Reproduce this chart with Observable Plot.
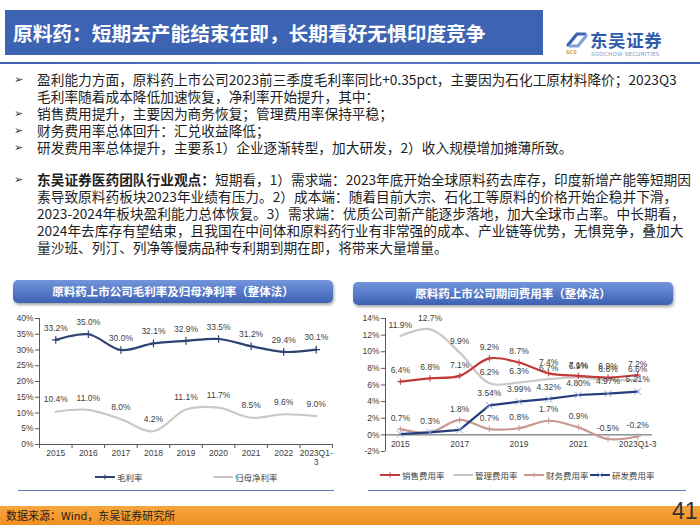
<!DOCTYPE html>
<html><head><meta charset="utf-8">
<script src="https://cdn.jsdelivr.net/npm/d3@7"></script>
<script src="https://cdn.jsdelivr.net/npm/@observablehq/plot@0.6"></script>
<style>
body{margin:0;width:700px;height:525px;position:relative;overflow:hidden;background:#fff;font-family:"Noto Sans CJK SC","Noto Sans",sans-serif;}
.abs{position:absolute;}
.txt{position:absolute;left:0;width:700px;font-size:13.7px;line-height:17px;color:#1e1e1e;white-space:nowrap;}
.ln{position:relative;padding-left:37px;height:17px;}
.bl{position:absolute;left:14px;top:0;font-size:11px;font-family:"DejaVu Sans",sans-serif;color:#333;}
.ctitle{position:absolute;height:23px;line-height:23px;border-radius:5px;background:linear-gradient(to bottom,#7395dc,#3d61b3);box-shadow:1px 2px 3px rgba(0,0,0,0.35);color:#fff;font-weight:bold;font-size:11.5px;text-align:center;}
.leg{position:absolute;font-family:"Noto Sans CJK SC",sans-serif;font-size:8.5px;color:#404040;display:flex;align-items:center;white-space:nowrap;}
.leg svg{margin-right:2px;}
</style></head><body>
<div class="abs" style="left:5px;top:10px;width:538px;height:45px;background:#3d63b3;"></div>
<div class="abs" style="left:13px;top:10px;height:45px;line-height:45px;color:#fff;font-weight:bold;font-size:19.7px;white-space:nowrap;">原料药：短期去产能结束在即，长期看好无惧印度竞争</div>
<svg class="abs" style="left:565px;top:32px" width="24" height="16" viewBox="0 0 24 16">
  <path d="M3 13 L12 2 L20 2" fill="none" stroke="#3a62b0" stroke-width="3.2" stroke-linecap="round"/>
  <path d="M5 14 L13 14 L21 4" fill="none" stroke="#7fa0d8" stroke-width="3.2" stroke-linecap="round"/>
</svg>
<div class="abs" style="left:566px;top:50px;font-size:5px;line-height:5px;color:#c8a23a;font-weight:bold;font-family:'DejaVu Sans';">SCS</div>
<div class="abs" style="left:590px;top:31px;font-size:17.5px;line-height:17px;font-weight:bold;color:#2f5cab;letter-spacing:0.6px;">东吴证券</div>
<div class="abs" style="left:591px;top:51px;font-size:5.6px;line-height:6px;color:#7b97cc;font-family:'DejaVu Sans';letter-spacing:0.2px;">SOOCHOW SECURITIES</div>
<div class="abs" style="left:0;top:62px;width:700px;height:2px;background:linear-gradient(to right,#3f62ad,#5a7bc0,#3f62ad);"></div>

<div class="txt" style="top:71px;">
  <div class="ln"><span class="bl">➢</span>盈利能力方面，原料药上市公司2023前三季度毛利率同比+0.35pct，主要因为石化工原材料降价；2023Q3</div>
  <div class="ln">毛利率随着成本降低加速恢复，净利率开始提升，其中：</div>
  <div class="ln"><span class="bl">➢</span>销售费用提升，主要因为商务恢复；管理费用率保持平稳；</div>
  <div class="ln"><span class="bl">➢</span>财务费用率总体回升：汇兑收益降低；</div>
  <div class="ln"><span class="bl">➢</span>研发费用率总体提升，主要系1）企业逐渐转型，加大研发，2）收入规模增加摊薄所致。</div>
</div>
<div class="txt" style="top:171px;">
  <div class="ln"><span class="bl">➢</span><b>东吴证券医药团队行业观点：</b>短期看，1）需求端：2023年底开始全球原料药去库存，印度新增产能等短期因</div>
  <div class="ln">素导致原料药板块2023年业绩有压力。2）成本端：随着目前大宗、石化工等原料的价格开始企稳并下滑，</div>
  <div class="ln">2023-2024年板块盈利能力总体恢复。3）需求端：优质公司新产能逐步落地，加大全球市占率。中长期看，</div>
  <div class="ln">2024年去库存有望结束，且我国在中间体和原料药行业有非常强的成本、产业链等优势，无惧竞争，叠加大</div>
  <div class="ln">量沙班、列汀、列净等慢病品种专利期到期在即，将带来大量增量。</div>
</div>

<div class="ctitle" style="left:13px;top:280px;width:320px;">原料药上市公司毛利率及归母净利率（整体法）</div>
<div class="ctitle" style="left:353px;top:282px;width:320px;">原料药上市公司期间费用率（整体法）</div>

<div id="left" class="abs" style="left:0;top:305px;"></div>
<div id="right" class="abs" style="left:345px;top:305px;"></div>

<div class="abs" style="left:18px;top:490px;width:316px;height:1px;background:#5a76ae;"></div>
<div class="abs" style="left:368px;top:490px;width:318px;height:1px;background:#5a76ae;"></div>

<div class="abs" style="left:0;top:506px;width:700px;height:19px;background:linear-gradient(to bottom,#f7a63f,#ef8f22);"></div>
<div class="abs" style="left:6px;top:506px;height:19px;line-height:19px;font-size:11px;color:#1e1e1e;">数据来源：Wind，东吴证券研究所</div>
<div class="abs" style="left:672px;top:498px;font-size:23px;color:#333;font-family:'Liberation Sans',Arial,sans-serif;">41</div>

<script>
// ---- data ----
const years = ["2015","2016","2017","2018","2019","2020","2021","2022","2023Q1-3"];
const leftYearLabels = ["2015","2016","2017","2018","2019","2020","2021","2022","2023Q1-\n3"];
const rightYearLabels = ["2015","","2017","","2019","","2021","","2023Q1-3"];
const grossMargin = [33.2, 35.0, 30.0, 32.1, 32.9, 33.5, 31.2, 29.4, 30.1];
const netMargin   = [10.4, 11.0, 8.0, 4.2, 11.1, 11.7, 8.5, 9.6, 9.0];
const sellingRate = [6.4, 6.8, 7.1, 9.2, 8.7, 7.4, 7.1, 6.9, 7.2];
const adminRate   = [11.9, 12.7, 9.9, 6.2, 6.3, 6.7, 6.9, 6.6, 6.6];
const financeRate = [0.7, 0.3, 1.8, 0.7, 0.8, 1.7, 0.9, -0.5, -0.2];
const rdRate      = [0.1, 0.3, 0.6, 3.54, 3.99, 4.32, 4.80, 4.97, 5.21];
const rdLabels    = ["", "", "", "3.54%", "3.99%", "4.32%", "4.80%", "4.97%", "5.21%"];
const leftTicks = [0, 5, 10, 15, 20, 25, 30, 35, 40];
const rightTicks = [-2, 0, 2, 4, 6, 8, 10, 12, 14];
const leftSeriesNames = ["毛利率", "归母净利率"];
const rightSeriesNames = ["销售费用率", "管理费用率", "财务费用率", "研发费用率"];

// ---- styles ----
const C = {gross:"#2e4372", net:"#c9c9c9", sell:"#c23b3b", admin:"#c8c8c8", fin:"#c89a92", rd:"#263c7c", rdMark:"#8fa9da", axis:"#595959", text:"#404040"};
const font = "'Liberation Sans', Arial, sans-serif";

const idx = d3.range(years.length);
const xDom = [-0.5, years.length - 0.5];
const boundaries = d3.range(years.length + 1).map(i => i - 0.5);

const leftData = idx.map(i => ({i, gross: grossMargin[i], net: netMargin[i]}));
const leftPlot = Plot.plot({
  width: 340, height: 168,
  marginLeft: 39, marginRight: 8, marginTop: 13, marginBottom: 29,
  x: {type: "linear", domain: xDom, axis: null},
  y: {domain: [leftTicks[0], leftTicks[leftTicks.length-1]], axis: null},
  style: {fontFamily: font, fontSize: "8.5px", color: C.text, background: "transparent", overflow: "visible"},
  marks: [
    Plot.axisY(leftTicks, {tickSize: 4, tickPadding: 2, tickFormat: d => d + "%", label: null, stroke: C.axis, fill: C.text}),
    Plot.ruleX([xDom[0]], {y1: leftTicks[0], y2: leftTicks[leftTicks.length-1], stroke: C.axis}),
    Plot.ruleY([0], {stroke: C.axis}),
    Plot.axisX(boundaries, {tickSize: 4, tickFormat: () => "", label: null, stroke: C.axis}),
    Plot.axisX(idx, {tickSize: 0, tickPadding: 5, tickFormat: i => leftYearLabels[i], label: null, fill: C.text, lineHeight: 1.1}),
    Plot.line(leftData, {x: "i", y: "net", curve: "catmull-rom", stroke: C.net, strokeWidth: 2.2}),
    Plot.line(leftData, {x: "i", y: "gross", curve: "catmull-rom", stroke: C.gross, strokeWidth: 2.2}),
    Plot.dot(leftData, {x: "i", y: "gross", symbol: "plus", r: 2.6, stroke: C.gross, strokeWidth: 1.2}),
    Plot.text(leftData, {x: "i", y: "gross", text: d => d.gross.toFixed(1) + "%", dy: -12, fill: C.text}),
    Plot.text(leftData, {x: "i", y: "net", text: d => d.net.toFixed(1) + "%", dy: -12, fill: C.text})
  ]
});
document.getElementById("left").appendChild(leftPlot);

const rightData = idx.map(i => ({i, sell: sellingRate[i], admin: adminRate[i], fin: financeRate[i], rd: rdRate[i], rdL: rdLabels[i]}));
const rightPlot = Plot.plot({
  width: 320, height: 156,
  marginLeft: 40, marginRight: 13, marginTop: 13, marginBottom: 10,
  x: {type: "linear", domain: xDom, axis: null},
  y: {domain: [rightTicks[0], rightTicks[rightTicks.length-1]], axis: null},
  style: {fontFamily: font, fontSize: "8.5px", color: C.text, background: "transparent", overflow: "visible"},
  marks: [
    Plot.axisY(rightTicks, {tickSize: 4, tickPadding: 2, tickFormat: d => d + "%", label: null, stroke: C.axis, fill: C.text}),
    Plot.ruleX([xDom[0]], {y1: rightTicks[0], y2: rightTicks[rightTicks.length-1], stroke: C.axis}),
    Plot.ruleY([0], {stroke: C.axis}),
    Plot.text(idx, {x: d => d, y: 0, text: i => rightYearLabels[i], dy: 9, fill: C.text}),
    Plot.line(rightData, {x: "i", y: "admin", curve: "catmull-rom", stroke: C.admin, strokeWidth: 2.2}),
    Plot.line(rightData, {x: "i", y: "fin", curve: "catmull-rom", stroke: C.fin, strokeWidth: 2.2}),
    Plot.dot(rightData, {x: "i", y: "fin", symbol: "plus", r: 2.2, stroke: C.fin, strokeWidth: 1}),
    Plot.line(rightData, {x: "i", y: "sell", curve: "catmull-rom", stroke: C.sell, strokeWidth: 2.2}),
    Plot.dot(rightData, {x: "i", y: "sell", symbol: "plus", r: 2.2, stroke: C.sell, strokeWidth: 1}),
    Plot.line(rightData, {x: "i", y: "rd", stroke: C.rd, strokeWidth: 2.2}),
    Plot.dot(rightData, {x: "i", y: "rd", symbol: "times", r: 3.2, stroke: C.rdMark, strokeWidth: 1}),
    Plot.text(rightData, {x: "i", y: "sell", text: d => d.sell.toFixed(1) + "%", dy: -11, fill: C.text}),
    Plot.text(rightData, {x: "i", y: "admin", text: d => d.admin.toFixed(1) + "%", dy: -11, fill: C.text}),
    Plot.text(rightData, {x: "i", y: "fin", text: d => d.fin.toFixed(1) + "%", dy: -11, fill: C.text}),
    Plot.text(rightData, {x: "i", y: "rd", text: "rdL", dy: -12, fill: C.text})
  ]
});
document.getElementById("right").appendChild(rightPlot);

// ---- legends ----
function legendItem(left, top, color, marker, label, markColor) {
  const d = document.createElement("div");
  d.className = "leg";
  d.style.left = left + "px"; d.style.top = top + "px";
  let m = "";
  if (marker === "plus") m = `<path d="M10 2.5V7.5M7.5 5H12.5" stroke="${markColor||color}" stroke-width="1"/>`;
  if (marker === "times") m = `<path d="M7.5 2.5L12.5 7.5M12.5 2.5L7.5 7.5" stroke="${markColor||color}" stroke-width="1"/>`;
  d.innerHTML = `<svg width="20" height="10"><line x1="0" y1="5" x2="20" y2="5" stroke="${color}" stroke-width="2"/>${m}</svg><span>${label}</span>`;
  document.body.appendChild(d);
}
legendItem(95, 471, C.gross, "plus", leftSeriesNames[0]);
legendItem(213, 471, C.net, null, leftSeriesNames[1]);
legendItem(380, 469, C.sell, "plus", rightSeriesNames[0]);
legendItem(453, 469, C.admin, null, rightSeriesNames[1]);
legendItem(524, 469, C.fin, "plus", rightSeriesNames[2]);
legendItem(590, 469, C.rd, "times", rightSeriesNames[3], C.rdMark);
</script>
</body></html>
